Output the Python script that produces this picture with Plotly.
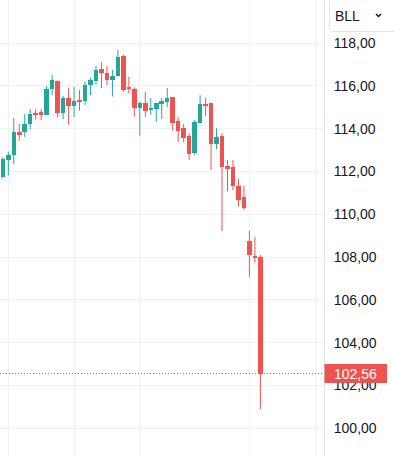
import plotly.graph_objects as go

# ---- data ----
opens = [111.76, 112.54, 112.76, 113.85, 113.85, 114.21, 114.72, 114.80, 114.64, 115.86,
         116.23, 114.75, 115.43, 115.07, 115.36, 115.29, 116.04, 116.23, 116.79, 116.60,
         116.27, 116.48, 117.41, 115.92, 115.87, 114.98, 115.20, 114.89, 114.92, 115.16,
         115.25, 115.48, 114.36, 114.02, 113.66, 112.86, 114.28, 115.15, 115.20, 113.27,
         113.66, 112.26, 112.22, 111.34, 110.82, 108.75, 108.05, 108.00]
highs = [112.67, 112.93, 114.50, 114.22, 114.69, 114.92, 114.92, 114.92, 116.00, 116.52,
         116.26, 115.53, 115.92, 115.95, 115.81, 116.18, 116.38, 116.93, 117.12, 116.93,
         116.76, 117.68, 117.46, 116.43, 115.92, 115.25, 115.71, 115.43, 115.22, 115.43,
         115.90, 115.48, 114.55, 114.21, 113.79, 114.41, 115.57, 115.43, 115.20, 114.02,
         113.79, 112.54, 112.54, 111.65, 111.34, 109.22, 108.94, 108.10]
lows = [111.70, 111.82, 112.35, 113.44, 113.61, 113.97, 114.42, 114.40, 114.64, 115.57,
        114.53, 114.44, 114.19, 114.55, 114.84, 115.11, 115.57, 116.07, 115.89, 116.04,
        115.50, 116.48, 115.73, 115.65, 114.56, 113.67, 114.56, 114.65, 114.33, 114.45,
        115.01, 113.91, 113.39, 113.36, 112.54, 112.79, 114.28, 114.59, 112.07, 113.04,
        109.22, 111.06, 111.14, 110.36, 110.20, 107.08, 107.74, 100.90]
closes = [112.58, 112.77, 113.85, 113.72, 114.22, 114.69, 114.67, 114.65, 115.86, 116.27,
          114.75, 115.42, 115.07, 115.29, 115.29, 116.04, 116.29, 116.74, 116.59, 116.27,
          116.46, 117.36, 115.81, 115.86, 114.98, 115.20, 114.84, 114.97, 115.20, 115.30,
          115.43, 114.28, 113.91, 113.58, 112.82, 114.31, 115.15, 115.10, 113.27, 113.60,
          112.22, 112.13, 111.34, 110.67, 110.31, 108.10, 107.97, 102.56]

price_ticks = [100, 102, 104, 106, 108, 110, 112, 114, 116, 118]
price_tick_labels = ["100,00", "102,00", "104,00", "106,00", "108,00",
                     "110,00", "112,00", "114,00", "116,00", "118,00"]
time_grid = [1, 13, 25, 45, 57]
symbol = "BLL"
last_price = 102.56
last_price_label = "102,56"

GREEN = "#26a69a"
RED = "#ef5350"
GRID = "#f0f1f3"
TEXT = "#131722"
FONT = "Liberation Sans"

idx = list(range(len(opens)))
up = [c >= o for o, c in zip(opens, closes)]

fig = go.Figure()

# wicks
for flag, col in ((True, GREEN), (False, RED)):
    wx, wy = [], []
    for i in idx:
        if up[i] == flag:
            wx += [i, i, None]
            wy += [lows[i], highs[i], None]
    fig.add_trace(go.Scatter(x=wx, y=wy, mode="lines", line=dict(color=col, width=1),
                             hoverinfo="skip", showlegend=False))

# bodies
fig.add_trace(go.Bar(
    x=idx,
    y=[abs(c - o) for o, c in zip(opens, closes)],
    base=[min(o, c) for o, c in zip(opens, closes)],
    width=0.82,
    marker=dict(color=[GREEN if u else RED for u in up], line=dict(width=0)),
    hoverinfo="skip", showlegend=False))

W, H = 394, 457
PW = 324  # plot area width in px
spacing = 5.48
x0 = -2.82 / spacing
x1 = x0 + PW / spacing
ppu = 21.4
y_lo = 100 - (H - 428.3) / ppu
y_hi = 100 + 428.3 / ppu


def px(x):
    return x / PW


def py(y):
    return 1 - y / H


shapes = [
    # last price dotted line
    dict(type="line", xref="paper", yref="y", x0=0, x1=1, y0=last_price, y1=last_price,
         line=dict(color=RED, width=1, dash="1px,2px"), layer="above"),
    # last price label box
    dict(type="rect", xref="paper", yref="y", x0=px(324.5), x1=px(387),
         y0=last_price - 9.5 / ppu, y1=last_price + 9.5 / ppu,
         fillcolor=RED, line=dict(width=0), layer="above"),
    # white backdrop for symbol selector
    dict(type="rect", xref="paper", yref="paper", x0=px(325.5), x1=px(400),
         y0=py(37), y1=py(-2), fillcolor="white", line=dict(width=0), layer="above"),
    # symbol selector border
    dict(type="path", xref="paper", yref="paper",
         path=(f"M {px(329.5)} {py(-3)} L {px(329.5)} {py(27.5)} "
               f"Q {px(329.5)} {py(31.5)} {px(333.5)} {py(31.5)} L {px(400)} {py(31.5)}"),
         line=dict(color="#e0e3eb", width=1), layer="above"),
    # chevron
    dict(type="path", xref="paper", yref="paper",
         path=f"M {px(376)} {py(14)} L {px(378.5)} {py(16.5)} L {px(381)} {py(14)}",
         line=dict(color=TEXT, width=1.5), layer="above"),
]

annotations = [
    dict(text=last_price_label, xref="paper", yref="y", x=px(332), y=last_price,
         xanchor="left", yanchor="middle", showarrow=False,
         font=dict(family=FONT, size=14, color="white")),
    dict(text=symbol, xref="paper", yref="paper", x=px(333), y=py(16),
         xanchor="left", yanchor="middle", showarrow=False,
         font=dict(family=FONT, size=14, color=TEXT)),
]

fig.update_layout(
    width=W, height=H,
    margin=dict(l=0, r=W - PW, t=0, b=0),
    paper_bgcolor="white", plot_bgcolor="white",
    showlegend=False, bargap=0, hovermode=False,
    shapes=shapes, annotations=annotations,
    xaxis=dict(range=[x0, x1], tickvals=time_grid, showticklabels=False, ticks="",
               showgrid=True, gridcolor=GRID, gridwidth=1, zeroline=False,
               showline=False, fixedrange=True),
    yaxis=dict(range=[y_lo, y_hi], side="right", tickvals=price_ticks,
               ticktext=price_tick_labels, ticks="", ticklabelstandoff=6,
               tickfont=dict(family=FONT, size=14, color=TEXT),
               showgrid=True, gridcolor=GRID, gridwidth=1, zeroline=False,
               showline=True, linecolor="#e0e3eb", linewidth=1, fixedrange=True),
)

fig.write_html(
    "out.html",
    config={"displayModeBar": False},
    post_script="document.body.style.margin='0';document.body.style.overflow='hidden';",
)
